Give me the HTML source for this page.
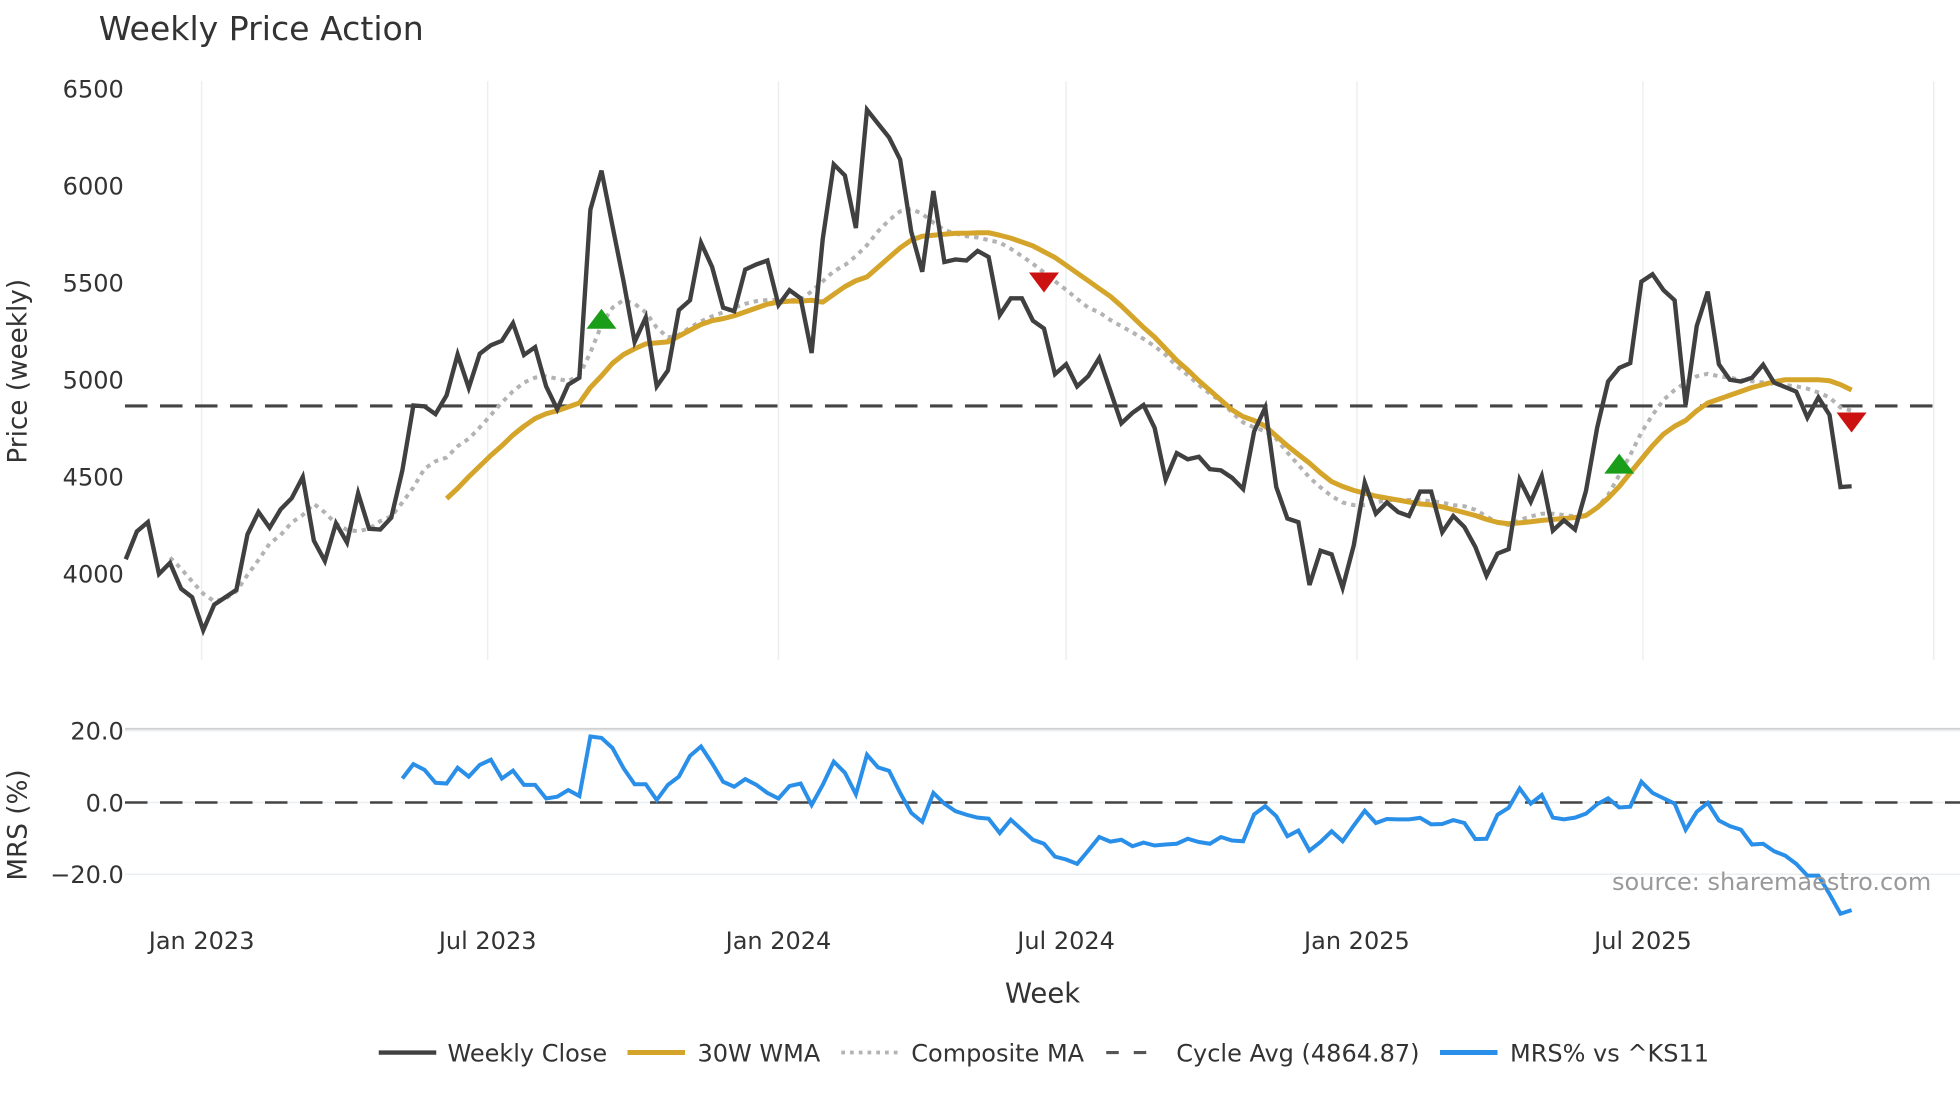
<!DOCTYPE html>
<html><head><meta charset="utf-8"><style>
html,body{margin:0;padding:0;background:#fff;}
svg{display:block;font-family:"DejaVu Sans","Liberation Sans",sans-serif;}
</style></head><body>
<svg id="chart" width="1960" height="1102" viewBox="0 0 1568 881.6" xmlns="http://www.w3.org/2000/svg">
<rect x="0" y="0" width="1568" height="881.6" fill="#fff"/>
<text x="79" y="32" font-size="26.5" fill="#333">Weekly Price Action</text>
<g id="grid"></g>
<g id="yticks"></g>
<text transform="translate(21,297) rotate(-90)" text-anchor="middle" font-size="21" fill="#333">Price (weekly)</text>
<text transform="translate(21,660) rotate(-90)" text-anchor="middle" font-size="21" fill="#333">MRS (%)</text>
<g id="series"></g>
<g id="xticks"></g>
<text x="1545" y="712" text-anchor="end" font-size="19.2" fill="#999">source: sharemaestro.com</text>
<text x="834" y="802" text-anchor="middle" font-size="22" fill="#333">Week</text>
<g>
 <g><line x1="303" y1="842" x2="349" y2="842" stroke="#404040" stroke-width="3.5"/><text x="358" y="849" font-size="19.2" fill="#333">Weekly Close</text></g>
 <g><line x1="502" y1="842" x2="548" y2="842" stroke="#d4a52a" stroke-width="4"/><text x="558" y="849" font-size="19.2" fill="#333">30W WMA</text></g>
 <g><line x1="673" y1="842" x2="718" y2="842" stroke="#b3b3b3" stroke-width="3" stroke-dasharray="3 4"/><text x="729" y="849" font-size="19.2" fill="#333">Composite MA</text></g>
 <g><line x1="885" y1="842" x2="928" y2="842" stroke="#555" stroke-width="2.5" stroke-dasharray="10 12"/><text x="941" y="849" font-size="19.2" fill="#333">Cycle Avg (4864.87)</text></g>
 <g><line x1="1152" y1="842" x2="1198" y2="842" stroke="#2a8fe8" stroke-width="4"/><text x="1208" y="849" font-size="19.2" fill="#333">MRS% vs ^KS11</text></g>
</g>
</svg>
<script>
const startDate = "2022-11-14";
const closeValues = [4075,4218,4266,3999,4056,3923,3879,3709,3841,3879,3917,4203,4318,4237,4332,4390,4499,4171,4066,4260,4161,4415,4232,4228,4289,4533,4867,4863,4823,4920,5130,4958,5134,5178,5201,5292,5128,5168,4966,4848,4975,5010,5877,6078,
5792,5506,5195,5321,4966,5048,5359,5410,5706,5581,5372,5353,5568,5595,5615,5385,5462,5420,5138,5726,6110,6053,5782,6392,6320,6249,6135,5763,5557,5973,5607,5620,5615,5664,5633,5334,5420,5420,5305,5264,5029,
5080,4966,5019,5112,4943,4775,4829,4870,4752,4485,4622,4590,4603,4539,4533,4495,4437,4733,4857,4447,4285,4266,3942,4119,4100,3928,4146,4470,4310,4367,4318,4298,4424,4424,4214,4298,4241,4138,3990,4104,4127,4485,
4371,4504,4222,4276,4228,4428,4752,4991,5061,5086,5506,5544,5462,5410,4870,5277,5454,5080,5000,4991,5010,5077,4985,4962,4939,4805,4909,4819,4447,4451];
const wmaStart = 29;
const wmaValues = [4387,4440,4500,4555,4610,4660,4715,4760,4800,4825,4840,4860,4880,4960,5020,5085,5130,5160,5185,5190,5195,5225,5255,5285,5305,5315,5330,5350,5370,5390,5400,5405,5405,5410,5400,5440,5480,5510,5530,5580,5630,5680,5720,5740,5745,5750,5755,5755,5758,5758,5745,5730,5710,5690,5660,5630,5590,5550,5510,5470,5430,5380,5325,5270,5220,5160,5100,5050,4995,4945,4895,4845,4810,4790,4760,4710,4660,4615,4570,4520,4475,4450,4430,4415,4400,4390,4380,4370,4360,4355,4345,4330,4315,4300,4280,4265,4258,4262,4268,4275,4280,4285,4290,4300,4340,4390,4450,4520,4590,4660,4720,4760,4790,4840,4880,4900,4920,4940,4960,4975,4990,5000,5000,5000,5000,4995,4975,4947];
const compStart = 4;
const compValues = [4084,4026,3961,3897,3858,3871,3910,3994,4071,4155,4200,4264,4303,4361,4316,4258,4226,4219,4232,4271,4296,4367,4445,4541,4580,4599,4657,4696,4754,4818,4883,4941,4986,5011,5018,5005,4992,5024,5140,5282,5372,5411,5392,5347,5269,5218,5231,5269,5301,5327,5347,5372,5392,5405,5411,5411,5411,5411,5456,5508,5559,5591,5637,5694,5765,5823,5868,5881,5855,5810,5772,5753,5740,5733,5720,5707,5675,5637,5598,5553,5508,5463,5417,5372,5347,5308,5276,5244,5211,5173,5128,5070,5024,4973,4928,4889,4831,4780,4754,4735,4696,4625,4561,4496,4445,4400,4367,4354,4354,4367,4380,4380,4380,4380,4374,4367,4354,4348,4329,4296,4264,4251,4277,4296,4309,4309,4303,4296,4303,4341,4406,4509,4612,4728,4818,4896,4947,4986,5018,5031,5018,5011,4999,4992,4986,4979,4973,4966,4954,4934,4909,4857,4840];
const cycleAvg = 4864.87;
const mrsStart = 25;
const mrsValues = [6.7,10.7,9.1,5.5,5.3,9.7,7.2,10.5,11.9,6.7,8.9,4.9,4.9,1.1,1.6,3.5,1.8,18.4,18.0,15.2,9.5,5.1,5.1,0.7,4.9,7.2,13.0,15.6,10.9,5.8,4.4,6.5,4.9,2.7,1.1,4.6,5.3,-0.7,4.9,11.4,8.3,2.3,13.3,9.8,8.8,2.7,-2.9,-5.4,2.7,-0.3,-2.4,-3.4,-4.2,-4.5,-8.5,-4.8,-7.6,-10.4,-11.5,-15.1,-15.9,-17.1,-13.4,-9.6,-10.9,-10.4,-12.2,-11.2,-12.0,
-11.7,-11.5,-10.1,-11.0,-11.5,-9.6,-10.6,-10.8,-3.3,-1.0,-3.8,-9.4,-7.8,-13.4,-11.0,-8.0,-10.8,-6.4,-2.3,-5.7,-4.6,-4.7,-4.7,-4.3,-6.1,-6.0,-4.9,-5.7,-10.2,-10.1,-3.4,-1.5,3.9,-0.3,2.1,-4.2,-4.7,-4.2,-3.1,-0.5,1.2,-1.4,-1.2,5.8,2.7,1.2,-0.3,-7.6,-2.6,-0.1,-5.0,-6.6,-7.6,-11.7,-11.5,-13.6,-14.8,-17.1,-20.4,-20.4,-25.5,-31.0,-30.0];
const buyIdx = [43,135];
const buyValues = [5308,4561];
const sellIdx = [83,156];
const sellValues = [5508,4786];
const priceTicks = [6500,6000,5500,5000,4500,4000];
const priceTickLabels = ["6500","6000","5500","5000","4500","4000"];
const mrsTicks = [20,0,-20];
const mrsTickLabels = ["20.0","0.0","\u221220.0"];
const xTickDates = ["2023-01-01","2023-07-01","2024-01-01","2024-07-01","2025-01-01","2025-07-01","2026-01-01"];
const xTickLabels = ["Jan 2023","Jul 2023","Jan 2024","Jul 2024","Jan 2025","Jul 2025",""];

const NS="http://www.w3.org/2000/svg";
const DAY=86400000;
const d0=Date.parse("2023-01-01"), d1=Date.parse("2026-01-01");
function xDate(ms){return 161.3+(ms-d0)/(d1-d0)*(1547-161.3);}
function xIdx(i){return xDate(Date.parse(startDate)+i*7*DAY);}
function yP(p){return 459-(p-4000)*0.1552;}
function yM(v){return 642-v*2.87;}
function mk(tag,attrs,parent){const e=document.createElementNS(NS,tag);for(const k in attrs)e.setAttribute(k,attrs[k]);parent.appendChild(e);return e;}
const gridG=document.getElementById('grid'), ytG=document.getElementById('yticks'), serG=document.getElementById('series'), xtG=document.getElementById('xticks');

xTickDates.forEach((d,k)=>{
  const x=xDate(Date.parse(d));
  const g=mk('line',{x1:x,y1:65,x2:x,y2:528,stroke:'#eceff2','stroke-width':1.2},gridG);
  
  
  if(xTickLabels[k]){
    const t=mk('text',{x:x,y:759,'text-anchor':'middle','font-size':19.2,fill:'#333'},xtG);
    t.textContent=xTickLabels[k];
    
    
  }
});
priceTicks.forEach((p,k)=>{
  const t=mk('text',{x:99,y:yP(p)+7,'text-anchor':'end','font-size':19.2,fill:'#333'},ytG);
  t.textContent=priceTickLabels[k];
  
  
});
const panelTop=mk('line',{x1:100,y1:583,x2:1568,y2:583,stroke:'#d0d0d0','stroke-width':1.5},gridG);


mrsTicks.forEach((v,k)=>{
  const gl=mk('line',{x1:100,y1:yM(v),x2:1568,y2:yM(v),stroke:'#eceff2','stroke-width':1.2},gridG);
  
  
  const t=mk('text',{x:99,y:yM(v)+7,'text-anchor':'end','font-size':19.2,fill:'#333'},ytG);
  t.textContent=mrsTickLabels[k];
  
  
});
function path(vals,start,yf){return vals.map((v,j)=>(j?'L':'M')+xIdx(start+j).toFixed(1)+','+yf(v).toFixed(1)).join(' ');}

const cyc=mk('line',{x1:100,y1:yP(cycleAvg),x2:1555,y2:yP(cycleAvg),stroke:'#444','stroke-width':2.5,'stroke-dasharray':'18 10'},serG);


const zero=mk('line',{x1:100,y1:yM(0),x2:1568,y2:yM(0),stroke:'#444','stroke-width':2,'stroke-dasharray':'18 10'},serG);



const comp=mk('path',{d:path(compValues,compStart,yP),fill:'none',stroke:'#b3b3b3','stroke-width':3.2,'stroke-dasharray':'3.5 4'},serG);


const wma=mk('path',{d:path(wmaValues,wmaStart,yP),fill:'none',stroke:'#d4a52a','stroke-width':4,'stroke-linejoin':'round'},serG);


const cl=mk('path',{d:path(closeValues,0,yP),fill:'none',stroke:'#404040','stroke-width':3.5},serG);


const mrs=mk('path',{d:path(mrsValues,mrsStart,yM),fill:'none',stroke:'#2a8fe8','stroke-width':3.2},serG);



buyIdx.forEach((i,k)=>{
  const x=xIdx(i), y=yP(buyValues[k]);
  const t=mk('polygon',{points:`${x-12},${y+7} ${x+12},${y+7} ${x},${y-9}`,fill:'#1a9e1a'},serG);
  
  
});
sellIdx.forEach((i,k)=>{
  const x=xIdx(i), y=yP(sellValues[k]);
  const t=mk('polygon',{points:`${x-12},${y-7} ${x+12},${y-7} ${x},${y+9}`,fill:'#cc1111'},serG);
  
  
});
</script>
</body></html>
